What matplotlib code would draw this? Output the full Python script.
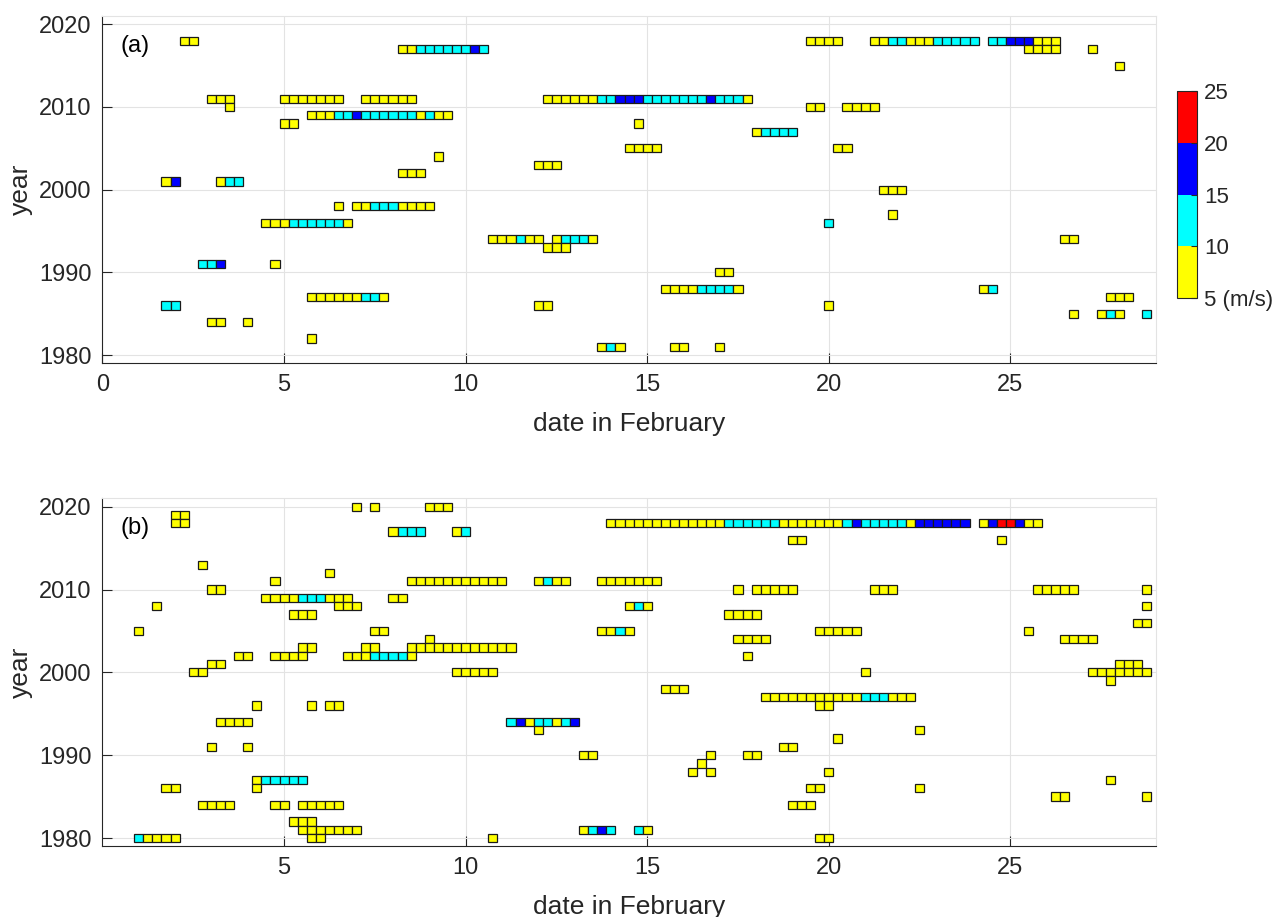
import numpy as np
import matplotlib
matplotlib.use('Agg')
import matplotlib.pyplot as plt
from matplotlib.colors import ListedColormap, BoundaryNorm
from matplotlib.cm import ScalarMappable

plt.rcParams['font.family'] = ['Liberation Sans', 'DejaVu Sans']

# wind speed classes (m/s): Y 5-10, C 10-15, B 15-20, R 20-25
class_speed = {'Y': 7.5, 'C': 12.5, 'B': 17.5, 'R': 22.5}
speed_bounds = [5, 10, 15, 20, 25]
speed_colors = ['#ffff00', '#00ffff', '#0000ff', '#ff0000']
step = 0.25  # 6-hourly samples

# panel (a): runs of consecutive 6-hourly samples (year, first date, classes)
a_years = [2018, 2017, 2011, 2010, 2011, 2011, 2009, 2008, 2004, 2002, 2001, 2001,
           2011, 2008, 2007, 2005, 2003, 2018, 2018, 2018, 2017, 2017, 2015, 2010,
           2010, 2005, 2000, 1998, 1998, 1996, 1991, 1991, 1987, 1986, 1984, 1984,
           1982, 1994, 1994, 1993, 1990, 1988, 1986, 1981, 1981, 1981, 1997, 1996,
           1994, 1988, 1986, 1987, 1985, 1985, 1985]
a_start = [2.25, 8.25, 3.0, 3.5, 5.0, 7.25, 5.75, 5.0, 9.25, 8.25, 1.75, 3.25,
           12.25, 14.75, 18.0, 14.5, 12.0, 19.5, 21.25, 24.5, 25.5, 27.25, 28.0, 19.5,
           20.5, 20.25, 21.5, 6.5, 7.0, 4.5, 2.75, 4.75, 5.75, 1.75, 3.0, 4.0,
           5.75, 10.75, 12.5, 12.25, 17.0, 15.5, 12.0, 13.75, 15.75, 17.0, 21.75, 20.0,
           26.5, 24.25, 20.0, 27.75, 26.75, 27.5, 28.75]
a_class = ['YY', 'YYCCCCCCBC', 'YYY', 'Y', 'YYYYYYY', 'YYYYYY', 'YYYCCBCCCCCCYCYY',
           'YY', 'Y', 'YYY', 'YB', 'YCC',
           'YYYYYYCCBBBCCCCCCCBCCCY', 'Y', 'YCCCC', 'YYYY', 'YYY', 'YYYY',
           'YYCCYYYCCCCC', 'CCBBBYYY', 'YYYY', 'Y', 'Y', 'YY',
           'YYYY', 'YY', 'YYY', 'Y', 'YYCCCYYYY', 'YYYCCCCCCY', 'CCB', 'Y',
           'YYYYYYCCY', 'CC', 'YY', 'Y',
           'Y', 'YYYCYY', 'YCCCY', 'YYY', 'YY', 'YYYYCCCCY', 'YY', 'YCY', 'YY', 'Y',
           'Y', 'C',
           'YY', 'YC', 'Y', 'YYY', 'Y', 'YCY', 'C']

# panel (b)
b_years = [2019, 2018, 2020, 2020, 2020, 2017, 2017, 2013, 2012, 2011, 2011, 2011,
           2011, 2010, 2009, 2009, 2008, 2008, 2007, 2005, 2005, 2004, 2003, 2003,
           2003, 2002, 2002, 2002, 2001, 2000, 2000, 1996, 1996, 1996, 1994, 1991,
           1991, 1987, 1986, 1986, 1984, 1984, 1984, 1982, 1981, 1980, 1980,
           2018, 2018, 2016, 2016, 2010, 2010, 2008, 2007, 2005, 2004, 2002, 1998,
           1997, 1996, 1994, 1993, 1990, 1990, 1990, 1989, 1988, 1988, 1991, 1986,
           1986, 1984, 1981, 1981, 1980,
           2010, 2010, 2010, 2008, 2006, 2005, 2005, 2004, 2001, 2000, 2000, 1999,
           1993, 1992, 1988, 1980, 1987, 1985, 1985]
b_start = [2.0, 2.0, 7.0, 7.5, 9.0, 8.0, 9.75, 2.75, 6.25, 4.75, 8.5, 12.0,
           13.75, 3.0, 4.5, 8.0, 1.5, 6.5, 5.25, 1.0, 7.5, 9.0, 5.5, 7.25,
           8.5, 3.75, 4.75, 6.75, 3.0, 2.5, 9.75, 4.25, 5.75, 6.25, 3.25, 3.0,
           4.0, 4.25, 4.25, 1.75, 2.75, 4.75, 5.5, 5.25, 5.5, 5.75, 1.0,
           14.0, 24.25, 19.0, 24.75, 17.5, 18.0, 14.5, 17.25, 13.75, 17.5, 17.75, 15.5,
           18.25, 19.75, 11.25, 12.0, 13.25, 16.75, 17.75, 16.5, 16.25, 16.75, 18.75, 19.5,
           22.5, 19.0, 13.25, 14.75, 10.75,
           21.25, 25.75, 28.75, 28.75, 28.5, 19.75, 25.5, 26.5, 28.0, 21.0, 27.25, 27.75,
           22.5, 20.25, 20.0, 19.75, 27.75, 26.25, 28.75]
b_class = ['YY', 'YY', 'Y', 'Y', 'YYY', 'YCCC', 'YC', 'Y', 'Y', 'Y', 'YYYYYYYYYYY',
           'YCYY', 'YYYYYYY', 'YY', 'YYYYCCCYYY', 'YY', 'Y', 'YYY', 'YYY', 'Y', 'YY',
           'Y', 'YY', 'YY', 'YYYYYYYYYYYY', 'YY', 'YYYY', 'YYYCCCCY', 'YY', 'YY',
           'YYYYY', 'Y', 'Y', 'YY', 'YYYY', 'Y', 'Y', 'YCCCCC', 'Y', 'YY', 'YYYY',
           'YY', 'YYYYY', 'YYY', 'YYYYYYY', 'YY', 'CYYYY',
           'YYYYYYYYYYYYYCCCCCCYYYYYYYCBCCCCCYBBBBBB', 'YBRRBYY', 'YY', 'Y', 'Y',
           'YYYYY', 'YCY', 'YYYY', 'YYCY', 'YYYY', 'Y', 'YYY',
           'YYYYYYYYYYYCCCYYY', 'YY', 'CBYCCYCB', 'Y', 'YY', 'Y', 'YY', 'Y', 'Y', 'Y',
           'YY', 'YY', 'Y', 'YYY', 'YCBC', 'CY', 'Y',
           'YYY', 'YYYYY', 'Y', 'Y', 'YY', 'YYYYY', 'Y', 'YYYY', 'YYY', 'Y',
           'YYYYYYY', 'Y', 'Y', 'Y', 'Y', 'YY', 'Y', 'YY', 'Y']

cmap = ListedColormap(speed_colors)
norm = BoundaryNorm(speed_bounds, cmap.N)
axcol = '#262626'


def expand(years, starts, classes):
    xs, ys, sp = [], [], []
    for yr, d0, cls in zip(years, starts, classes):
        for i, c in enumerate(cls):
            xs.append(d0 + i * step)
            ys.append(yr)
            sp.append(class_speed[c])
    return np.array(xs), np.array(ys), np.array(sp)


def draw_panel(ax, years, starts, classes, tag, xticks):
    x, y, s = expand(years, starts, classes)
    ax.bar(x, 1.0, width=step, bottom=y - 0.5, color=cmap(norm(s)),
           edgecolor='#1a1a1a', linewidth=0.9, zorder=3)
    ax.set_xlim(0, 29)
    ax.set_ylim(1979, 2021)
    ax.set_xticks(xticks)
    ax.set_yticks([1980, 1990, 2000, 2010, 2020])
    ax.grid(True, color='#e3e3e3', linewidth=0.8)
    ax.set_axisbelow(True)
    for side in ['left', 'bottom']:
        ax.spines[side].set_color(axcol)
        ax.spines[side].set_linewidth(0.8)
    for side in ['top', 'right']:
        ax.spines[side].set_color('#e3e3e3')
        ax.spines[side].set_linewidth(0.8)
    ax.tick_params(direction='in', length=7.5, width=0.8, colors=axcol,
                   labelsize=17, pad=8)
    ax.set_xlabel('date in February', fontsize=19, color=axcol, labelpad=11)
    ax.set_ylabel('year', fontsize=19, color=axcol, labelpad=4)
    ax.text(0.017, 0.915, tag, transform=ax.transAxes, fontsize=17,
            color='black', va='center', ha='left')


fig = plt.figure(figsize=(12.76, 9.17), dpi=100)
ax1 = fig.add_axes([0.0803, 0.6038, 0.8254, 0.3787])
ax2 = fig.add_axes([0.0803, 0.0771, 0.8254, 0.3794])

draw_panel(ax1, a_years, a_start, a_class, '(a)', [0, 5, 10, 15, 20, 25])
draw_panel(ax2, b_years, b_start, b_class, '(b)', [5, 10, 15, 20, 25])

cax = fig.add_axes([0.9224, 0.675, 0.0157, 0.2257])
cb = fig.colorbar(ScalarMappable(norm=norm, cmap=cmap), cax=cax,
                  ticks=speed_bounds)
cb.ax.set_yticklabels(['5 (m/s)', '10', '15', '20', '25'])
cb.ax.tick_params(direction='in', length=4, width=0.8, colors=axcol,
                  labelsize=16, pad=5)
cb.outline.set_edgecolor(axcol)
cb.outline.set_linewidth(0.8)

fig.savefig('out.png', dpi=100)
